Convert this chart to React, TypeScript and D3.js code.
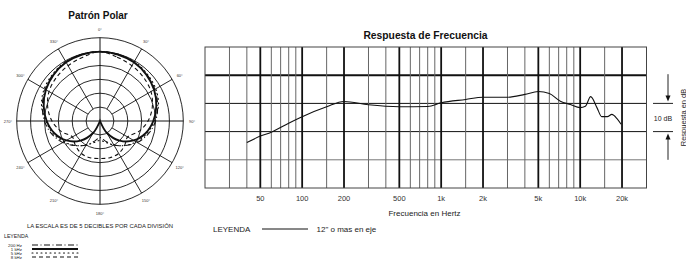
import React from 'react';
import * as d3 from 'd3';

// ---- frequency response data ----
const freqHz = [40, 50, 60, 80, 100, 150, 200, 300, 500, 800, 1000, 1500, 2000, 3000, 4000, 5000, 6000, 7200, 8500, 10000, 10900, 11900, 13200, 14300, 15700, 16900, 18400, 19700];
const respDb = [-13.9, -11.6, -10.2, -7.0, -4.7, -1.2, 0.7, -0.5, -1.2, -1.1, 0.2, 1.4, 2.2, 2.2, 3.2, 4.2, 3.5, 0.8, -0.4, -1.5, -1.0, 2.4, -1.5, -4.7, -4.7, -3.9, -5.4, -7.4];

const gridFreqs = [30, 40, 50, 60, 70, 80, 90, 100, 150, 200, 300, 400, 500, 600, 700, 800, 900, 1000, 1500, 2000, 3000, 4000, 5000, 6000, 7000, 8000, 9000, 10000, 15000, 20000];
const tickFreqs = [50, 100, 200, 500, 1000, 2000, 5000, 10000, 20000];
const tickLabels = ['50', '100', '200', '500', '1k', '2k', '5k', '10k', '20k'];
const gridDb = [-20, -10, 0, 10];

// ---- polar data: dB at angle (0..180, mirrored) ----
const polarAngles = [0, 15, 30, 45, 60, 75, 90, 105, 120, 135, 150, 165, 180];
const polar200 = [0, -0.2, -0.5, -1.2, -2.2, -3.5, -5.0, -7.0, -9.5, -12.5, -15.0, -17.5, -19.0];
const polar1k = [0, -0.2, -0.6, -1.4, -2.5, -4.0, -5.8, -8.0, -11.0, -15.0, -20.0, -25.0, -25.0];
const polar5k = [0, -0.1, -0.3, -1.0, -1.8, -3.2, -5.5, -7.5, -10.0, -12.5, -15.0, -17.0, -18.0];
const polar8k = [0, -1.2, -2.0, -2.8, -3.8, -5.5, -7.7, -10.5, -13.5, -12.5, -11.5, -11.3, -11.5];
const ringDb = [-20, -15, -10, -5, 0, 5];
const spokeAngles = [30, 60, 120, 150, 210, 240, 300, 330];
const angleLabels = [0, 30, 60, 90, 120, 150, 180, 210, 240, 270, 300, 330];

const polarSeries = [
  { name: '200 Hz', values: polar200, dash: '6,2.5,1,2.5', width: 1.1 },
  { name: '1 kHz', values: polar1k, dash: '', width: 1.9 },
  { name: '5 kHz', values: polar5k, dash: '1,3.5', width: 1.1 },
  { name: '8 kHz', values: polar8k, dash: '4,3', width: 1.1 },
];

const font = 'Liberation Sans, Arial, sans-serif';

const App: React.FC = () => {
  const W = 686;
  const H = 270;

  // frequency chart scales
  const x = d3.scaleLog().domain([20, 30000]).range([205, 646.5]);
  const y = d3.scaleLinear().domain([-30, 20]).range([188, 47]);
  const line = d3.line<number>()
    .x((_, i) => x(freqHz[i]))
    .y((d) => y(d))
    .curve(d3.curveMonotoneX);
  const respPath = line(respDb) || '';

  // polar scales
  const cx = 100;
  const cy = 121;
  const r = d3.scaleLinear().domain([-25, 5]).range([0, 83.3]).clamp(true);
  const radial = d3.lineRadial<[number, number]>()
    .angle((d) => (d[0] * Math.PI) / 180)
    .radius((d) => r(d[1]))
    .curve(d3.curveCatmullRomClosed.alpha(0.5));
  const fullCircle = (vals: number[]): [number, number][] => {
    const right = polarAngles.map((a, i) => [a, vals[i]] as [number, number]);
    const left = polarAngles.slice(1, -1).reverse().map((a) => [360 - a, vals[polarAngles.indexOf(a)]] as [number, number]);
    return [...right, ...left];
  };

  return (
    <svg width={W} height={H} style={{ position: 'absolute', left: 0, top: 0, background: '#fff' }} fontFamily={font}>
      {/* ---------- Polar pattern ---------- */}
      <text x={98} y={19} textAnchor="middle" fontSize={10} fontWeight="bold" fill="#111">Patrón Polar</text>
      <g transform={`translate(${cx},${cy})`}>
        {ringDb.map((d) => (
          <circle key={d} r={r(d)} fill="none" stroke="#111" strokeWidth={0.9} />
        ))}
        <line x1={-r(5)} x2={r(5)} y1={0} y2={0} stroke="#111" strokeWidth={1} />
        <line y1={-r(5)} y2={r(5)} x1={0} x2={0} stroke="#111" strokeWidth={1} />
        {spokeAngles.map((a) => {
          const t = (a * Math.PI) / 180;
          return (
            <line key={a}
              x1={Math.sin(t) * r(-20)} y1={-Math.cos(t) * r(-20)}
              x2={Math.sin(t) * r(5)} y2={-Math.cos(t) * r(5)}
              stroke="#111" strokeWidth={0.9} />
          );
        })}
        {angleLabels.map((a) => {
          const t = (a * Math.PI) / 180;
          return (
            <text key={a} x={Math.sin(t) * 92} y={-Math.cos(t) * 92 + 1.5} textAnchor="middle" fontSize={4} fill="#333">{a}°</text>
          );
        })}
        {polarSeries.map((s) => (
          <path key={s.name} d={radial(fullCircle(s.values)) || ''} fill="none" stroke="#111"
            strokeWidth={s.width} strokeDasharray={s.dash} strokeLinecap={s.dash === '1,3.5' ? 'round' : 'butt'} />
        ))}
      </g>
      <text x={100} y={227.5} textAnchor="middle" fontSize={5.9} fill="#222">LA ESCALA ES DE 5 DECIBLES POR CADA DIVISIÓN</text>
      <text x={4} y={237.5} fontSize={5.2} fill="#222">LEYENDA</text>
      {polarSeries.map((s, i) => (
        <g key={s.name}>
          <text x={22} y={246.5 + i * 4} textAnchor="end" fontSize={4.4} fill="#222">{s.name}</text>
          <line x1={32} x2={78} y1={245 + i * 4} y2={245 + i * 4} stroke="#111"
            strokeWidth={s.width} strokeDasharray={s.dash} strokeLinecap={s.dash === '1,3.5' ? 'round' : 'butt'} />
        </g>
      ))}

      {/* ---------- Frequency response ---------- */}
      <text x={425.5} y={39} textAnchor="middle" fontSize={10.3} fontWeight="bold" fill="#111">Respuesta de Frecuencia</text>
      {gridDb.map((d) => (
        <line key={d} x1={x(20)} x2={x(30000)} y1={y(d)} y2={y(d)}
          stroke={d === -20 ? '#777' : '#111'} strokeWidth={d === 10 ? 2 : 1} />
      ))}
      {gridFreqs.map((f) => {
        const thick = tickFreqs.includes(f);
        return (
          <line key={f} x1={x(f)} x2={x(f)} y1={y(20)} y2={y(-30)}
            stroke={thick ? '#111' : '#666'} strokeWidth={thick ? 1.8 : 1} />
        );
      })}
      <rect x={x(20)} y={y(20)} width={x(30000) - x(20)} height={y(-30) - y(20)} fill="none" stroke="#444" strokeWidth={1} />
      <path d={respPath} fill="none" stroke="#111" strokeWidth={1.1} />
      {tickFreqs.map((f, i) => (
        <text key={f} x={x(f)} y={200.5} textAnchor="middle" fontSize={7.5} fill="#333">{tickLabels[i]}</text>
      ))}
      <text x={424.5} y={216} textAnchor="middle" fontSize={8} fill="#222">Frecuencia en Hertz</text>
      <text x={213} y={232} fontSize={8} fill="#222">LEYENDA</text>
      <line x1={262} x2={308} y1={229} y2={229} stroke="#111" strokeWidth={1} />
      <text x={316.5} y={232} fontSize={8} fill="#222">12" o mas en eje</text>

      {/* 10 dB marker */}
      <line x1={653} x2={673} y1={y(0)} y2={y(0)} stroke="#222" strokeWidth={1} />
      <line x1={653} x2={673} y1={y(-10)} y2={y(-10)} stroke="#222" strokeWidth={1} />
      <line x1={668} x2={668} y1={y(10) - 1} y2={y(0) - 7} stroke="#222" strokeWidth={1} />
      <path d={`M665.5,${y(0) - 8}L670.5,${y(0) - 8}L668,${y(0) - 2}Z`} fill="#111" />
      <line x1={668} x2={668} y1={y(-10) + 7} y2={y(-20)} stroke="#222" strokeWidth={1} />
      <path d={`M665.5,${y(-10) + 8}L670.5,${y(-10) + 8}L668,${y(-10) + 2}Z`} fill="#111" />
      <text x={663} y={121} textAnchor="middle" fontSize={7} fill="#222">10 dB</text>
      <text transform="translate(685.5,117.5) rotate(-90)" textAnchor="middle" fontSize={7.5} fill="#222">Respuesta en dB</text>
    </svg>
  );
};

export default App;
